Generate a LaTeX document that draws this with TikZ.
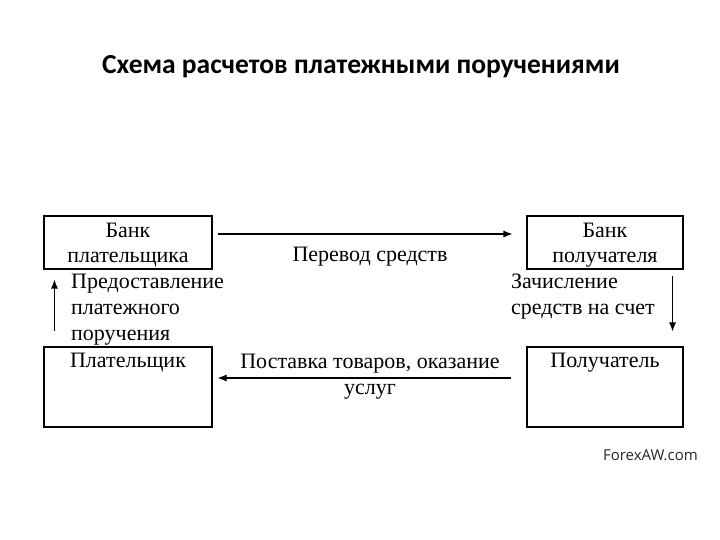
\documentclass[tikz,border=0pt]{standalone}
\usepackage{fontspec}
\setmainfont{Liberation Serif}
\newfontfamily\titlefont{Carlito}
\newfontfamily\markfont{Open Sans}
\usetikzlibrary{positioning}
\usetikzlibrary{arrows.meta}
\tikzset{
  box/.style={draw, line width=1.1pt, inner sep=0pt},
  boxtext/.style={anchor=north, align=center, inner sep=0pt, yshift=-6pt, font=\fontsize{22}{25}\selectfont},
  lbl/.style={inner sep=0pt, font=\fontsize{22}{26}\selectfont},
  arr/.style={->, line width=1.1pt},
}

\begin{document}
\begin{tikzpicture}[x=1pt, y=-1pt, >={Latex[length=9pt,width=7pt]}]
        \useasboundingbox (0,0) rectangle (720,540);
        %Title
        \node [font=\titlefont\bfseries\fontsize{27.5}{32}\selectfont] (title) at (361,67) {Схема расчетов платежными поручениями};
        %Boxes
        \node [box, minimum width=168pt, minimum height=53pt] (bankP) at (128,242.5) {};
        \node [box, minimum width=156pt, minimum height=53pt] (bankR) at (605,242.5) {};
        \node [box, minimum width=168pt, minimum height=80pt] (payer) at (128,387) {};
        \node [box, minimum width=156pt, minimum height=80pt] (recv) at (605,387) {};
        \node [boxtext, yshift=-1.5pt] (bankPtxt) at (bankP.north) {Банк\\плательщика};
        \node [boxtext, yshift=-1.5pt] (bankRtxt) at (bankR.north) {Банк\\получателя};
        \node [boxtext] (payertxt) at (payer.north) {Плательщик};
        \node [boxtext] (recvtxt) at (recv.north) {Получатель};
        %Arrows
        \draw [arr] ([xshift=5pt,yshift=8.5pt]bankP.east) -- ([xshift=-14pt,yshift=8.5pt]bankR.west);
        \draw [arr] ([xshift=-15pt,yshift=9pt]recv.west) -- ([xshift=5pt,yshift=9pt]payer.east);
        \draw [arr] ([xshift=11pt,yshift=15pt]payer.north west) -- ([xshift=11pt,yshift=-10pt]bankP.south west);
        \draw [arr] ([xshift=-11pt,yshift=-6pt]bankR.south east) -- ([xshift=-11pt,yshift=15pt]recv.north east);
        %Labels
        \node [lbl] (transfer) at (370,257) {Перевод средств};
        \node [lbl, align=left, anchor=west] (order) at (71,310) {Предоставление\\платежного\\поручения};
        \node [lbl, align=left, anchor=west] (credit) at (511,297) {Зачисление\\средств на счет};
        \node [lbl, align=center] (supply) at (370,377) {Поставка товаров, оказание\\услуг};
        \node [font=\markfont\fontsize{15}{18}\selectfont, text=black!85, anchor=east, inner sep=0pt] (mark) at (698,455) {ForexAW.com};
\end{tikzpicture}
\end{document}
